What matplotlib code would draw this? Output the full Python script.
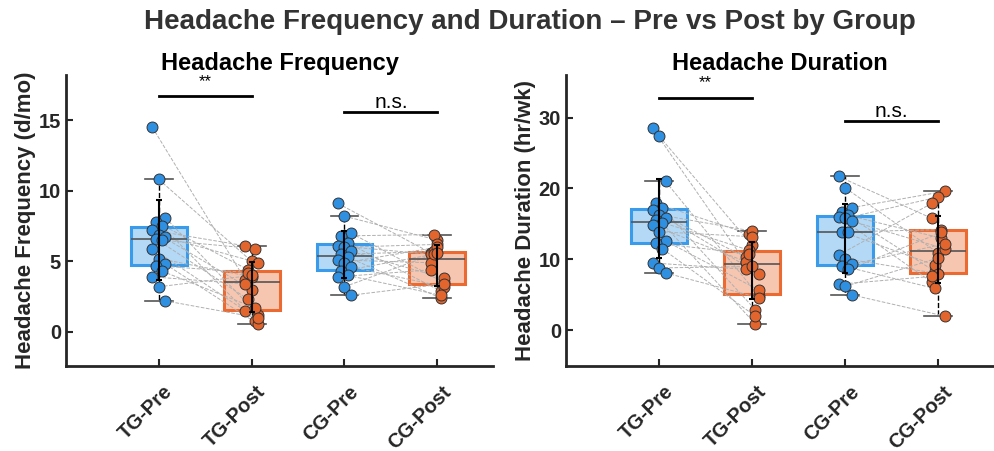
import numpy as np
import matplotlib
matplotlib.use("Agg")
import matplotlib.pyplot as plt
from matplotlib.transforms import ScaledTranslation

plt.rcParams["font.family"] = ["Liberation Sans", "DejaVu Sans"]

# ---- data (one value per subject, pre/post paired by index) ----
groups = ["TG-Pre", "TG-Post", "CG-Pre", "CG-Post"]

freq_tg_pre = [14.5, 10.8, 8.1, 7.8, 7.5, 7.2, 6.9, 6.7, 6.6, 6.5, 5.9, 5.2, 4.8, 4.7, 4.3, 3.9, 3.2, 2.2]
freq_tg_post = [3.7, 5.0, 1.2, 4.4, 0.8, 6.1, 3.0, 4.9, 2.3, 5.9, 1.5, 3.9, 0.55, 4.2, 1.7, 3.4, 4.0, 1.0]
freq_cg_pre = [9.1, 8.2, 7.0, 6.8, 6.3, 6.1, 6.0, 5.7, 5.5, 5.3, 5.1, 4.9, 4.6, 4.3, 4.0, 3.9, 3.2, 2.6]
freq_cg_post = [5.6, 6.5, 3.5, 6.9, 2.9, 5.5, 6.2, 3.8, 5.7, 2.4, 4.9, 6.0, 3.2, 5.5, 2.6, 4.4, 5.6, 3.4]

dur_tg_pre = [28.5, 27.4, 21.0, 17.9, 17.2, 17.0, 16.3, 15.9, 15.5, 15.1, 14.8, 13.9, 12.6, 12.3, 11.5, 9.5, 8.8, 8.1]
dur_tg_post = [9.6, 12.0, 4.9, 13.6, 2.9, 10.3, 14.0, 8.0, 11.3, 0.9, 9.7, 13.2, 5.7, 10.8, 2.0, 8.6, 9.0, 4.6]
dur_cg_pre = [21.7, 20.1, 17.3, 16.7, 16.2, 16.0, 15.8, 15.4, 13.9, 13.9, 10.6, 10.1, 9.3, 9.1, 8.6, 6.5, 6.2, 5.0]
dur_cg_post = [15.8, 10.9, 19.6, 8.3, 13.0, 6.8, 18.8, 11.5, 9.2, 14.2, 17.9, 8.0, 12.2, 5.9, 13.8, 7.6, 10.2, 2.0]

BLUE = "#2F8FE0"
ORANGE = "#E2652E"
BLUE_EDGE = "#3A9BEA"
ORANGE_EDGE = "#EA6A32"


def panel(ax, cols, title, ylabel, ylim, yticks, sig_y, sig_text):
    pos = np.arange(1, 5)
    bp = ax.boxplot(cols, positions=pos, widths=0.6, patch_artist=True,
                    showfliers=False, whis=1.5, capwidths=0.3,
                    medianprops=dict(color="#555555", lw=1.2),
                    whiskerprops=dict(color="k", lw=1.0, linestyle="--"),
                    capprops=dict(color="#555555", lw=1.2))
    for i, box in enumerate(bp["boxes"]):
        c = BLUE_EDGE if i % 2 == 0 else ORANGE_EDGE
        box.set_facecolor(matplotlib.colors.to_rgba(c, 0.38))
        box.set_edgecolor(c)
        box.set_linewidth(2.2)

    n = len(cols[0])
    # small fixed horizontal spread so markers don't sit exactly on top of each other
    jit = ((np.arange(n) * 7) % 5 - 2) * 0.035
    xs = [p + jit for p in pos]

    # paired lines pre -> post
    for a, b in [(0, 1), (2, 3)]:
        for k in range(n):
            ax.plot([xs[a][k], xs[b][k]], [cols[a][k], cols[b][k]],
                    ls="--", color="#B0B0B0", lw=0.7, zorder=2)

    for i, c in enumerate(cols):
        col = BLUE if i % 2 == 0 else ORANGE
        ax.scatter(xs[i], c, s=62, color=col, edgecolor="#333333", lw=0.7, zorder=3)
        m = np.mean(c)
        sd = np.std(c, ddof=1)
        ax.errorbar(pos[i], m, yerr=sd, color="k", lw=1.5, capsize=2.5,
                    capthick=1.5, zorder=4)

    # significance bars
    for (x1, x2), yy, txt in zip([(1, 2), (3, 4)], sig_y, sig_text):
        ax.plot([x1, x2], [yy, yy], color="k", lw=2)
        if txt == "**":
            ax.text((x1 + x2) / 2, yy + (ylim[1] - ylim[0]) * 0.025, txt,
                    ha="center", va="bottom", fontsize=12)
        else:
            ax.text((x1 + x2) / 2, yy, txt, ha="center", va="bottom", fontsize=15)

    ax.set_xlim(0, 4.6)
    ax.set_ylim(*ylim)
    ax.set_yticks(yticks)
    ax.set_xticks(pos)
    ax.tick_params(axis="x", labelbottom=False)
    # rotated group labels, placed a little right/below the tick like the original
    shift = ScaledTranslation(0.11, -0.23, ax.figure.dpi_scale_trans)
    for p, g in zip(pos, groups):
        ax.text(p, 0, g, transform=ax.get_xaxis_transform() + shift,
                rotation=45, ha="right", va="center", rotation_mode="anchor",
                fontsize=14.5, fontweight="bold", color="#262626")
    for lab in ax.get_yticklabels():
        lab.set_fontweight("bold")
    ax.tick_params(axis="both", direction="in", length=5, width=1.5,
                   labelsize=14.5, color="#262626", labelcolor="#262626")
    for s in ["top", "right"]:
        ax.spines[s].set_visible(False)
    for s in ["left", "bottom"]:
        ax.spines[s].set_linewidth(2)
        ax.spines[s].set_color("#262626")
    ax.set_title(title, fontsize=17, fontweight="bold", pad=3.6)
    ax.set_ylabel(ylabel, fontsize=16, fontweight="bold", labelpad=2, color="#262626")


fig = plt.figure(figsize=(9.94, 4.51), dpi=100)
ax1 = fig.add_axes([0.0664, 0.189, 0.4296, 0.6446])
ax2 = fig.add_axes([0.5694, 0.189, 0.4306, 0.6446])

panel(ax1, [freq_tg_pre, freq_tg_post, freq_cg_pre, freq_cg_post],
      "Headache Frequency", "Headache Frequency (d/mo)", (-2.4, 18.2), [0, 5, 10, 15],
      [16.7, 15.6], ["**", "n.s."])
panel(ax2, [dur_tg_pre, dur_tg_post, dur_cg_pre, dur_cg_post],
      "Headache Duration", "Headache Duration (hr/wk)", (-5, 36), [0, 10, 20, 30],
      [32.8, 29.5], ["**", "n.s."])

fig.text(0.533, 0.9357, "Headache Frequency and Duration \u2013 Pre vs Post by Group",
         fontsize=20, fontweight="bold", color="#333333", ha="center", va="baseline")

fig.savefig("out.png", dpi=100)
